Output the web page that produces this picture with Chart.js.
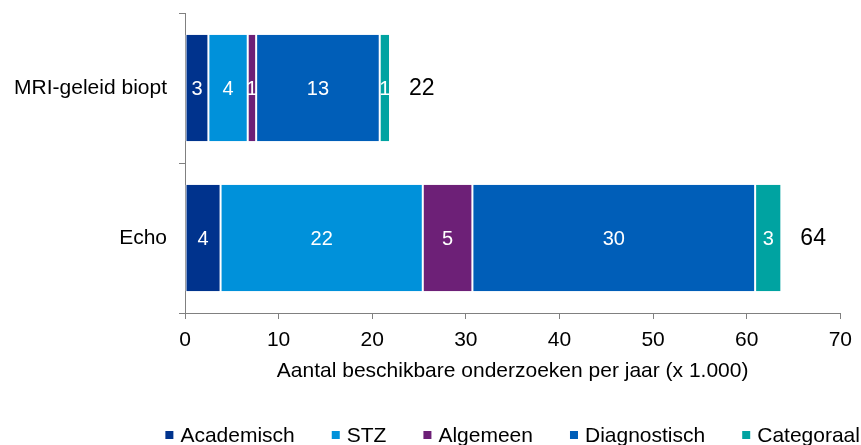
<!DOCTYPE html>
<html>
<head>
<meta charset="utf-8">
<script src="https://cdn.jsdelivr.net/npm/chart.js@4.4.1/dist/chart.umd.min.js"></script>
<style>
  html, body { margin: 0; padding: 0; background: #fff; }
  #wrap { width: 861px; height: 445px; position: relative; }
</style>
</head>
<body>
<div id="wrap"><canvas id="chart"></canvas></div>
<script>
// Categories (y axis) and the five hospital types stacked along x
const categories = ['MRI-geleid biopt', 'Echo'];
const seriesNames = ['Academisch', 'STZ', 'Algemeen', 'Diagnostisch', 'Categoraal'];
const seriesColors = ['#00338D', '#0091DA', '#6D2077', '#005EB8', '#00A3A1'];

// values in thousands per year
const academisch   = [2.5, 3.8];
const stz          = [4.2, 21.6];
const algemeen     = [0.9, 5.3];
const diagnostisch = [13.2, 30.2];
const categoraal   = [1.1, 2.8];
const seriesValues = [academisch, stz, algemeen, diagnostisch, categoraal];

const xTicks = [0, 10, 20, 30, 40, 50, 60, 70];
const xTitle = 'Aantal beschikbare onderzoeken per jaar (x 1.000)';

const FONT = '"Liberation Sans", Arial, sans-serif';
const AXIS_GREY = '#808080';

// white numbers inside each segment + black totals at the end of each bar
const labelPlugin = {
    id: 'barLabels',
    afterDatasetsDraw(chart) {
        const ctx = chart.ctx;
        ctx.save();
        ctx.textBaseline = 'middle';

        chart.data.datasets.forEach((ds, i) => {
            const meta = chart.getDatasetMeta(i);
            meta.data.forEach((bar, j) => {
                const cx = (bar.x + bar.base) / 2;
                ctx.fillStyle = '#ffffff';
                ctx.textAlign = 'center';
                ctx.font = '20px ' + FONT;
                ctx.fillText(String(Math.round(ds.data[j])), cx, bar.y + 1);
            });
        });

        const xScale = chart.scales.x;
        const yScale = chart.scales.y;
        categories.forEach((c, j) => {
            const total = seriesValues.reduce((s, arr) => s + arr[j], 0);
            ctx.fillStyle = '#000000';
            ctx.textAlign = 'left';
            ctx.font = '23px ' + FONT;
            ctx.fillText(String(Math.round(total)), xScale.getPixelForValue(total) + 19, yScale.getPixelForValue(j) + 1);
        });
        ctx.restore();
    }
};

// legend drawn by hand so the spacing matches the original
const legendPlugin = {
    id: 'bottomLegend',
    afterDraw(chart) {
        const ctx = chart.ctx;
        const box = 8, gapText = 7, gapItem = 37;
        ctx.save();
        ctx.font = '21px ' + FONT;
        ctx.textBaseline = 'middle';
        ctx.textAlign = 'left';
        const widths = seriesNames.map(n => box + gapText + ctx.measureText(n).width);
        const total = widths.reduce((a, b) => a + b, 0) + gapItem * (seriesNames.length - 1);
        const area = chart.chartArea;
        let x = (area.left + area.right) / 2 - total / 2;
        const y = 435;
        seriesNames.forEach((n, i) => {
            ctx.fillStyle = seriesColors[i];
            ctx.fillRect(x, y - box / 2, box, box);
            ctx.fillStyle = '#000000';
            ctx.fillText(n, x + box + gapText, y + 1);
            x += widths[i] + gapItem;
        });
        ctx.restore();
    }
};

new Chart(document.getElementById('chart'), {
    type: 'bar',
    data: {
        labels: categories,
        datasets: seriesNames.map((name, i) => ({
            label: name,
            data: seriesValues[i],
            backgroundColor: seriesColors[i],
            borderColor: '#ffffff',
            borderWidth: { left: 1, right: 1, top: 0, bottom: 0 },
            borderSkipped: false,
            categoryPercentage: 1,
            barPercentage: 0.71
        }))
    },
    options: {
        indexAxis: 'y',
        responsive: true,
        maintainAspectRatio: false,
        animation: false,
        layout: { padding: { top: 13, right: 19, bottom: 55, left: 0 } },
        plugins: {
            legend: { display: false },
            tooltip: { enabled: false }
        },
        scales: {
            x: {
                stacked: true,
                min: 0,
                max: 70,
                afterBuildTicks: scale => { scale.ticks = xTicks.map(v => ({ value: v })); },
                ticks: {
                    color: '#000',
                    font: { family: FONT, size: 21 },
                    padding: 9
                },
                grid: { drawOnChartArea: false, tickLength: 6, color: AXIS_GREY },
                border: { color: AXIS_GREY, width: 1 },
                title: {
                    display: true,
                    text: xTitle,
                    color: '#000',
                    font: { family: FONT, size: 21 },
                    padding: { top: 2, bottom: 6 }
                },
                afterFit: scale => { scale.height = 77; }
            },
            y: {
                stacked: true,
                ticks: {
                    color: '#000',
                    font: { family: FONT, size: 21 },
                    padding: 12
                },
                grid: { drawOnChartArea: false, offset: true, tickLength: 6, color: AXIS_GREY },
                border: { color: AXIS_GREY, width: 1 },
                afterFit: scale => {
                    scale.width = 185;
                    scale.paddingTop = 0;
                    scale.paddingBottom = 0;
                }
            }
        }
    },
    plugins: [labelPlugin, legendPlugin]
});
</script>
</body>
</html>
